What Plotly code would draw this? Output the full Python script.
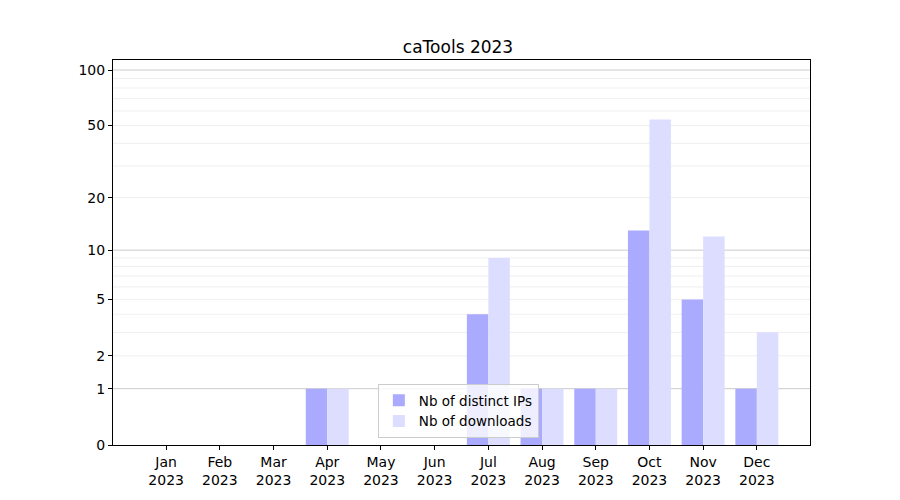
import numpy as np
import plotly.graph_objects as go

months = ["Jan", "Feb", "Mar", "Apr", "May", "Jun", "Jul", "Aug", "Sep", "Oct", "Nov", "Dec"]
year = "2023"
distinct_ips = [0, 0, 0, 1, 0, 0, 4, 1, 1, 13, 5, 1]
downloads = [0, 0, 0, 1, 0, 0, 9, 1, 1, 54, 12, 3]
y_tick_values = [0, 1, 2, 5, 10, 20, 50, 100]
major_grid = [1, 10, 100]
minor_grid = [2, 3, 4, 5, 6, 7, 8, 9, 20, 30, 40, 50, 60, 70, 80, 90]


def tr(v):
    return np.log10(np.asarray(v, dtype=float) + 1)


x = list(range(len(months)))

fig = go.Figure()
fig.add_trace(go.Bar(x=x, y=tr(distinct_ips), offset=-0.4, width=0.4,
                     marker=dict(color="#aaaaff", line=dict(width=0)),
                     name="Nb of distinct IPs"))
fig.add_trace(go.Bar(x=x, y=tr(downloads), offset=0.0, width=0.4,
                     marker=dict(color="#ddddff", line=dict(width=0)),
                     name="Nb of downloads"))

shapes = []
for g in minor_grid:
    shapes.append(dict(type="line", xref="paper", x0=0, x1=1, yref="y",
                       y0=float(tr(g)), y1=float(tr(g)), layer="below",
                       line=dict(color="#ebebeb", width=0.8)))
for g in major_grid:
    shapes.append(dict(type="line", xref="paper", x0=0, x1=1, yref="y",
                       y0=float(tr(g)), y1=float(tr(g)), layer="below",
                       line=dict(color="#cccccc", width=1)))

fig.update_layout(
    width=900, height=500,
    margin=dict(l=105, r=98, t=52, b=63),
    paper_bgcolor="white", plot_bgcolor="white",
    font=dict(family="DejaVu Sans", size=14, color="black"),
    title=dict(text="caTools 2023", x=0.5, xanchor="center", y=0.922, yanchor="middle",
               font=dict(size=17)),
    barmode="overlay",
    shapes=shapes,
    showlegend=True,
    legend=dict(x=0.38, y=0.018, xanchor="left", yanchor="bottom",
                bgcolor="rgba(255,255,255,0.8)", bordercolor="#cccccc", borderwidth=1,
                font=dict(size=13.5), tracegroupgap=0),
    xaxis=dict(range=[-0.99, 11.99], tickmode="array", tickvals=x,
               ticktext=[f"{m}<br>{year}" for m in months],
               showgrid=False, zeroline=False, showline=True, linecolor="black",
               linewidth=1, mirror=True, ticks="outside", ticklen=4, tickcolor="black"),
    yaxis=dict(range=[0, 2.058], tickmode="array", tickvals=list(tr(y_tick_values)),
               ticktext=[str(v) for v in y_tick_values],
               showgrid=False, zeroline=False, showline=True, linecolor="black",
               linewidth=1, mirror=True, ticks="outside", ticklen=4, tickcolor="black"),
)

fig.write_html("out.html")
